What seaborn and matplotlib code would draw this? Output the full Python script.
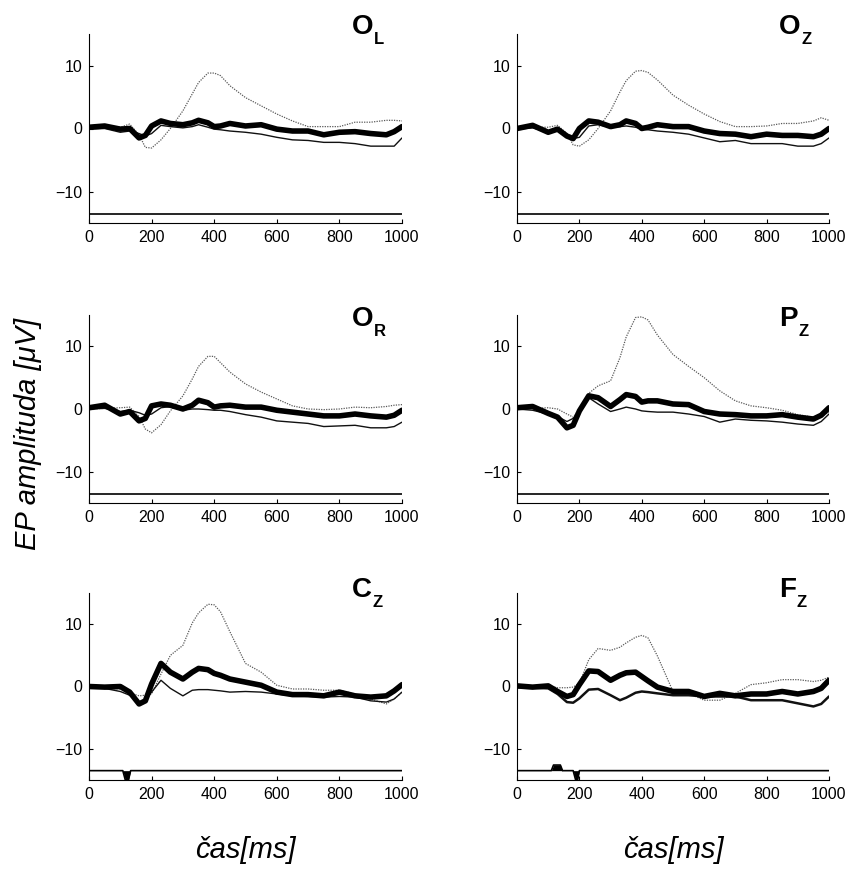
import numpy as np
import pandas as pd
import matplotlib
matplotlib.use("Agg")
import matplotlib.pyplot as plt
import seaborn as sns

# time grid (ms) shared by all traces
t_ms = [0, 50, 100, 130, 160, 180, 200, 230, 260, 300, 330, 350, 380, 400, 420,
        450, 500, 550, 600, 650, 700, 750, 800, 850, 900, 950, 975, 1000]

# O_L
ol_thick = [0.2, 0.4, -0.1, 0.0, -1.5, -1.1, 0.4, 1.2, 0.8, 0.6, 0.9, 1.3, 0.9, 0.3, 0.4,
            0.8, 0.4, 0.6, -0.1, -0.4, -0.4, -1.0, -0.6, -0.5, -0.8, -1.0, -0.5, 0.3]
ol_thin = [-0.1, 0.0, -0.6, -0.4, -0.8, -1.2, -0.8, 0.5, 0.3, 0.1, 0.3, 0.6, 0.2, -0.1, -0.2,
           -0.4, -0.6, -0.9, -1.4, -1.8, -1.9, -2.2, -2.2, -2.4, -2.8, -2.8, -2.8, -1.5]
ol_dot = [0.0, 0.1, 0.2, 0.7, -1.0, -3.0, -3.1, -1.8, 0.0, 2.8, 5.5, 7.3, 8.8, 8.8, 8.4,
          6.8, 4.9, 3.6, 2.3, 1.2, 0.3, 0.3, 0.3, 1.0, 1.0, 1.3, 1.3, 1.2]

# O_Z
oz_thick = [0.0, 0.5, -0.6, -0.1, -1.2, -1.6, 0.0, 1.2, 1.0, 0.3, 0.6, 1.2, 0.8, 0.0, 0.2,
            0.6, 0.3, 0.3, -0.4, -0.8, -0.9, -1.3, -0.9, -1.1, -1.1, -1.3, -0.9, 0.0]
oz_thin = [-0.1, 0.1, -0.6, -0.3, -1.0, -1.6, -1.4, 0.4, 0.6, 0.2, 0.3, 0.4, 0.2, -0.1, -0.2,
           -0.4, -0.6, -0.9, -1.5, -2.1, -1.9, -2.4, -2.4, -2.4, -2.8, -2.8, -2.4, -1.5]
oz_dot = [0.0, 0.2, 0.2, 0.5, -0.8, -2.6, -2.8, -1.8, 0.0, 2.8, 5.8, 7.6, 9.1, 9.2, 8.9,
          7.7, 5.3, 3.7, 2.3, 1.1, 0.3, 0.3, 0.4, 0.8, 0.8, 1.2, 1.7, 1.3]

# O_R
or_thick = [0.2, 0.6, -0.8, -0.4, -1.9, -1.5, 0.5, 0.8, 0.6, 0.0, 0.6, 1.4, 1.0, 0.3, 0.5,
            0.6, 0.3, 0.3, -0.2, -0.5, -0.8, -1.1, -1.1, -0.8, -1.1, -1.3, -1.0, -0.2]
or_thin = [0.0, 0.1, -0.4, -0.2, -0.6, -1.0, -0.8, 0.2, 0.4, -0.2, 0.0, 0.0, -0.1, -0.2, -0.2,
           -0.4, -0.9, -1.3, -1.9, -2.1, -2.3, -2.8, -2.7, -2.6, -3.0, -3.0, -2.8, -2.1]
or_dot = [0.0, 0.1, 0.2, 0.3, -1.2, -3.2, -3.8, -2.5, -0.3, 2.1, 4.8, 6.8, 8.4, 8.4, 7.4,
          5.9, 4.0, 2.7, 1.6, 0.5, 0.0, -0.1, 0.0, 0.3, 0.2, 0.4, 0.6, 0.7]

# P_Z
pz_thick = [0.2, 0.4, -0.7, -1.3, -3.0, -2.6, -0.3, 2.1, 1.8, 0.4, 1.5, 2.3, 2.0, 1.1, 1.3,
            1.3, 0.8, 0.7, -0.4, -0.8, -0.9, -1.1, -1.1, -0.9, -1.3, -1.6, -1.0, 0.2]
pz_thin = [0.0, -0.2, -0.8, -1.2, -2.0, -1.5, -0.5, 1.8, 0.8, -0.4, 0.0, 0.3, 0.0, -0.3, -0.4,
           -0.5, -0.5, -0.8, -1.2, -2.1, -1.6, -1.8, -1.9, -2.1, -2.4, -2.6, -2.0, -0.8]
pz_dot = [0.0, 0.1, 0.2, 0.0, -0.8, -1.3, 0.0, 2.5, 3.7, 4.5, 8.2, 11.5, 14.6, 14.7, 14.2,
          11.8, 8.7, 6.8, 5.0, 2.9, 1.3, 0.5, 0.2, -0.2, -0.9, -1.3, -1.2, -0.5]

# C_Z
cz_thick = [0.0, -0.1, 0.0, -0.9, -2.8, -2.3, 0.4, 3.7, 2.3, 1.2, 2.3, 2.9, 2.7, 2.1, 1.8,
            1.2, 0.7, 0.2, -0.9, -1.3, -1.3, -1.5, -0.9, -1.5, -1.7, -1.5, -0.7, 0.3]
cz_thin = [-0.1, -0.3, -0.8, -1.4, -2.5, -2.1, -0.9, 1.0, -0.3, -1.5, -0.6, -0.5, -0.5, -0.6, -0.7,
           -0.9, -0.8, -0.9, -1.2, -1.5, -1.6, -1.7, -1.6, -1.7, -2.3, -2.5, -2.0, -0.9]
cz_dot = [0.0, -0.2, -0.4, -1.0, -1.5, -1.4, -1.2, 2.0, 5.0, 6.6, 10.2, 11.8, 13.2, 13.1, 12.0,
          8.8, 3.7, 2.3, 0.2, -0.4, -0.4, -0.6, -0.6, -1.2, -2.0, -2.8, -2.0, -0.9]

# F_Z
fz_thick = [0.1, -0.1, 0.1, -0.8, -1.6, -1.3, 0.3, 2.5, 2.4, 1.0, 1.8, 2.2, 2.3, 1.6, 0.9,
            -0.1, -0.8, -0.8, -1.6, -1.1, -1.5, -1.2, -1.2, -0.8, -1.2, -0.8, -0.3, 1.0]
fz_thin = [-0.1, -0.2, -0.3, -1.2, -2.5, -2.6, -1.9, -0.5, -0.4, -1.4, -2.2, -1.8, -1.0, -0.8, -0.9,
           -1.1, -1.4, -1.4, -1.6, -1.6, -1.6, -2.2, -2.2, -2.2, -2.7, -3.2, -2.8, -1.6]
fz_dot = [0.1, 0.1, 0.1, -0.2, -0.2, -0.1, 0.5, 4.3, 6.1, 5.8, 6.3, 7.0, 7.9, 8.2, 7.8,
          4.9, -0.8, -1.1, -2.2, -2.2, -1.1, 0.3, 0.6, 1.1, 1.1, 0.8, 1.0, 1.5]

# significance traces (baseline -13.5)
sig_base = -13.5
sig_flat_t = [0, 1000]
sig_flat_v = [-13.5, -13.5]
sig_cz_t = [0, 108, 116, 126, 133, 1000]
sig_cz_v = [-13.5, -13.5, -15.0, -15.0, -13.5, -13.5]
sig_fz_t = [0, 110, 117, 139, 146, 180, 188, 194, 200, 1000]
sig_fz_v = [-13.5, -13.5, -12.6, -12.6, -13.5, -13.5, -15.0, -15.0, -13.5, -13.5]

labels = [("O", "L"), ("O", "Z"), ("O", "R"), ("P", "Z"), ("C", "Z"), ("F", "Z")]
thick_all = [ol_thick, oz_thick, or_thick, pz_thick, cz_thick, fz_thick]
thin_all = [ol_thin, oz_thin, or_thin, pz_thin, cz_thin, fz_thin]
dot_all = [ol_dot, oz_dot, or_dot, pz_dot, cz_dot, fz_dot]
sig_all = [(sig_flat_t, sig_flat_v)] * 4 + [(sig_cz_t, sig_cz_v), (sig_fz_t, sig_fz_v)]

sns.set_style("ticks")
plt.rcParams['font.family'] = ['Liberation Sans', 'DejaVu Sans']
plt.rcParams.update({"text.color": "black", "axes.edgecolor": "black",
                     "xtick.color": "black", "ytick.color": "black",
                     "axes.labelcolor": "black"})

W, H = 853, 873
fig = plt.figure(figsize=(W / 100, H / 100), dpi=100)

col_x = [89, 517]
col_w = [313, 312]
row_top = [34, 315, 593]
row_bot = [223, 503, 780]
title_y = [1.0, 0.94, 0.98]

for i in range(6):
    r, c = divmod(i, 2)
    ax = fig.add_axes([col_x[c] / W, 1 - row_bot[r] / H, col_w[c] / W,
                       (row_bot[r] - row_top[r]) / H])
    df = pd.DataFrame({"t": t_ms, "thick": thick_all[i], "thin": thin_all[i],
                       "dot": dot_all[i]})
    sns.lineplot(data=df, x="t", y="dot", ax=ax, color="#5a5a5a", lw=0.9,
                 linestyle=(0, (1, 1)))
    sns.lineplot(data=df, x="t", y="thin", ax=ax, color="#111111",
                 lw=1.8 if i == 5 else 1.0)
    sns.lineplot(data=df, x="t", y="thick", ax=ax, color="black", lw=4.0)

    st, sv = sig_all[i]
    ax.plot(st, sv, color="black", lw=1.2)
    ax.fill_between(st, sv, sig_base, color="black", lw=0)

    ax.set_xlim(0, 1000)
    ax.set_ylim(-15, 15)
    ax.set_xticks([0, 200, 400, 600, 800, 1000])
    ax.set_yticks([-10, 0, 10])
    ax.set_xlabel("")
    ax.set_ylabel("")
    ax.tick_params(direction="in", length=3, width=0.8, labelsize=11.5, pad=5)
    sns.despine(ax=ax)
    for s in ["left", "bottom"]:
        ax.spines[s].set_linewidth(0.8)

    main, sub = labels[i]
    t = ax.text(0.84, title_y[r], main, transform=ax.transAxes, ha="left",
                va="baseline", fontsize=20, fontweight="bold")
    ax.annotate(sub, xy=(1, 0), xycoords=t, xytext=(0.5, -3),
                textcoords="offset points", ha="left", va="baseline",
                fontsize=12, fontweight="bold")

fig.text(28 / W, 1 - 434 / H, "EP amplituda [μV]", rotation=90, ha="center",
         va="center", fontsize=21, style="italic")
for c in range(2):
    fig.text((col_x[c] + col_w[c] / 2) / W, 1 - 858 / H, "čas[ms]", ha="center",
             va="baseline", fontsize=21, style="italic")

fig.savefig("out.png", dpi=100)
